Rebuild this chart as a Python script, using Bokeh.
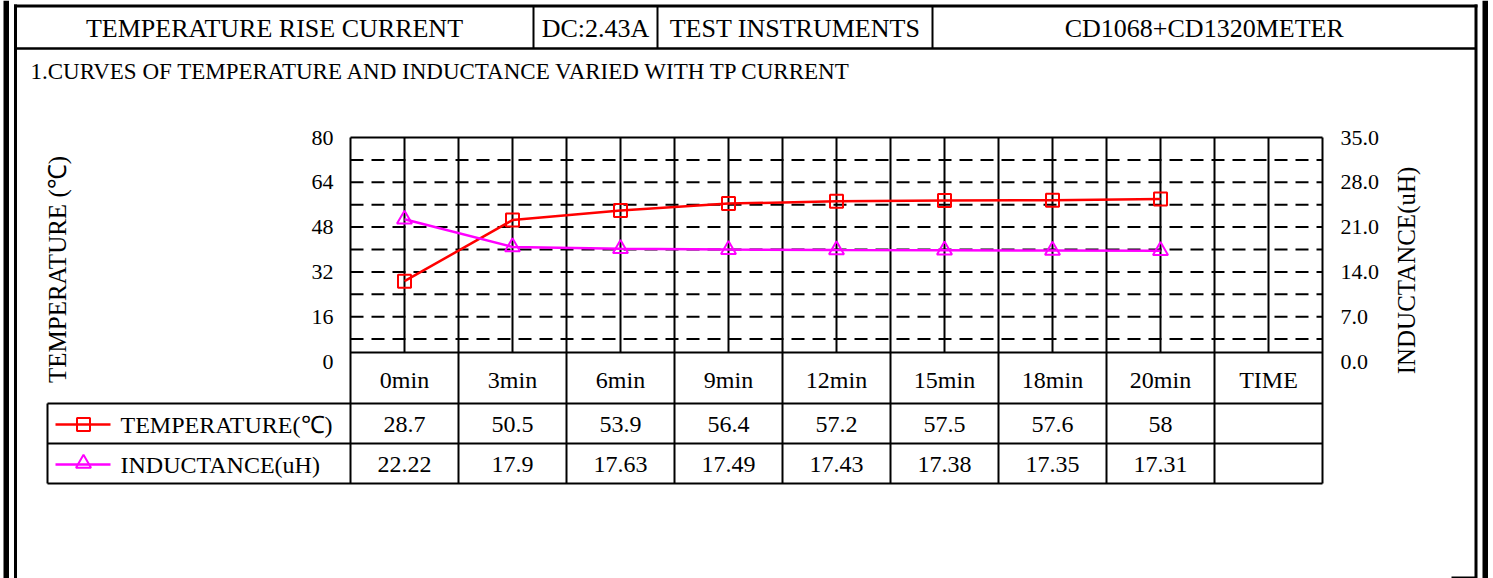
import math
from bokeh.plotting import figure
from bokeh.models import Range1d, GlobalInlineStyleSheet
from bokeh.core.properties import value
from bokeh.embed import file_html
from bokeh.resources import INLINE

# ---------------- data ----------------
categories = ["0min", "3min", "6min", "9min", "12min", "15min", "18min", "20min", "TIME"]
temperature = [28.7, 50.5, 53.9, 56.4, 57.2, 57.5, 57.6, 58]
inductance = [22.22, 17.9, 17.63, 17.49, 17.43, 17.38, 17.35, 17.31]
temp_ticks = [0, 16, 32, 48, 64, 80]
temp_minor = [8, 16, 24, 32, 40, 48, 56, 64, 72]
ind_ticks = [0.0, 7.0, 14.0, 21.0, 28.0, 35.0]
header_cells = ["TEMPERATURE RISE CURRENT", "DC:2.43A", "TEST INSTRUMENTS", "CD1068+CD1320METER"]
subtitle = "1.CURVES OF TEMPERATURE AND INDUCTANCE VARIED WITH TP CURRENT"
series_names = ["TEMPERATURE(℃)", "INDUCTANCE(uH)"]
left_title = "TEMPERATURE (℃)"
right_title = "INDUCTANCE(uH)"

# ---------------- layout (page pixels) ----------------
W, H = 1493, 578
PL, PR = 350, 1322          # plot area left / right
PT, PY0 = 137, 361          # pixel of axis max / axis zero
TMAX, IMAX = 80, 35
CW = (PR - PL) / len(categories)
TABLE_TOP, ROW1, ROW2, TABLE_BOT = 352, 403, 443, 483
LEG_LEFT = 47
HEADER_BOUNDS = [15, 533, 657, 932, 1475.5]
FONT = value("Liberation Serif")
RED, MAG = "#ff0000", "#ff00ff"

p = figure(width=W, height=H, x_range=Range1d(0, W), y_range=Range1d(H, 0),
           output_backend="svg", toolbar_location=None, min_border=0,
           x_axis_location=None, y_axis_location=None)
p.grid.visible = False
p.outline_line_color = None
p.background_fill_color = "white"
p.border_fill_color = "white"
p.stylesheets = [GlobalInlineStyleSheet(css="html,body{margin:0 !important;padding:0;overflow:hidden;}")]

span_px = PY0 - PT
p.extra_x_ranges = {"cat": Range1d(-PL / CW, (W - PL) / CW)}
p.extra_y_ranges = {
    "temp": Range1d((PY0 - H) * TMAX / span_px, PY0 * TMAX / span_px),
    "ind": Range1d((PY0 - H) * IMAX / span_px, PY0 * IMAX / span_px),
}

n = len(categories)
centers = [i + 0.5 for i in range(n)]
bounds = list(range(n + 1))

# ---------------- page frame ----------------
p.quad(left=[3, 1482], right=[8.5, 1487.5], top=[0, 0], bottom=[H, H], color="black", line_width=0)
p.segment(x0=[15, 1475.5], x1=[15, 1475.5], y0=[4, 4], y1=[H, H], line_color="black", line_width=3)
p.segment(x0=[13.5], x1=[1477], y0=[5.5], y1=[5.5], line_color="black", line_width=3)
p.segment(x0=[15], x1=[1475.5], y0=[48], y1=[48], line_color="black", line_width=2.5)
p.segment(x0=HEADER_BOUNDS[1:4], x1=HEADER_BOUNDS[1:4], y0=[5.5] * 3, y1=[48] * 3,
          line_color="black", line_width=2)
p.segment(x0=[1451], x1=[1476], y0=[577], y1=[577], line_color="black", line_width=2)

hx = [(HEADER_BOUNDS[i] + HEADER_BOUNDS[i + 1]) / 2 for i in range(4)]
p.text(x=hx, y=[28] * 4, text=header_cells, text_font=FONT, text_font_size="26px",
       text_align="center", text_baseline="middle", text_color="black")
p.text(x=[30], y=[71], text=[subtitle], text_font=FONT, text_font_size="23px",
       text_align="left", text_baseline="middle", text_color="black")

# ---------------- plot grid ----------------
p.segment(x0=[0] * len(temp_minor), x1=[n] * len(temp_minor), y0=temp_minor, y1=temp_minor,
          x_range_name="cat", y_range_name="temp", line_color="black", line_width=2, line_dash="13 8")
p.segment(x0=[0], x1=[n], y0=[TMAX], y1=[TMAX], x_range_name="cat", y_range_name="temp",
          line_color="black", line_width=2)
p.segment(x0=centers, x1=centers, y0=[PT] * n, y1=[TABLE_TOP] * n, x_range_name="cat",
          line_color="black", line_width=2)
p.segment(x0=bounds, x1=bounds, y0=[PT] * (n + 1), y1=[TABLE_BOT] * (n + 1), x_range_name="cat",
          line_color="black", line_width=2)

# ---------------- data table ----------------
p.segment(x0=[PL, LEG_LEFT, LEG_LEFT, LEG_LEFT], x1=[PR] * 4, y0=[TABLE_TOP, ROW1, ROW2, TABLE_BOT],
          y1=[TABLE_TOP, ROW1, ROW2, TABLE_BOT], line_color="black", line_width=2)
p.segment(x0=[LEG_LEFT], x1=[LEG_LEFT], y0=[ROW1], y1=[TABLE_BOT], line_color="black", line_width=2)

p.text(x=centers, y=[(TABLE_TOP + ROW1) / 2 + 2] * n, text=categories, x_range_name="cat",
       text_font=FONT, text_font_size="24px", text_align="center", text_baseline="middle",
       text_color="black")
r1 = (ROW1 + ROW2) / 2 + 1
r2 = (ROW2 + TABLE_BOT) / 2 + 1
p.text(x=centers[:len(temperature)], y=[r1] * len(temperature), text=[f"{v:g}" for v in temperature],
       x_range_name="cat", text_font=FONT, text_font_size="24px", text_align="center",
       text_baseline="middle", text_color="black")
p.text(x=centers[:len(inductance)], y=[r2] * len(inductance), text=[f"{v:g}" for v in inductance],
       x_range_name="cat", text_font=FONT, text_font_size="24px", text_align="center",
       text_baseline="middle", text_color="black")
p.text(x=[120, 120], y=[r1, r2], text=series_names, text_font=FONT, text_font_size="24px",
       text_align="left", text_baseline="middle", text_color="black")

# legend keys
p.segment(x0=[55], x1=[110], y0=[r1], y1=[r1], line_color=RED, line_width=2.5)
p.scatter(x=[83], y=[r1], marker="square", size=13, line_color=RED, fill_color=None, line_width=2)
p.segment(x0=[55], x1=[110], y0=[r2], y1=[r2], line_color=MAG, line_width=2.5)
p.scatter(x=[83], y=[r2 - 1], marker="triangle", size=15, line_color=MAG, fill_color=None, line_width=2)

# ---------------- series ----------------
p.line(x=centers[:len(temperature)], y=temperature, x_range_name="cat", y_range_name="temp",
       line_color=RED, line_width=2.5)
p.scatter(x=centers[:len(temperature)], y=temperature, x_range_name="cat", y_range_name="temp",
          marker="square", size=13, line_color=RED, fill_color=None, line_width=2)
p.line(x=centers[:len(inductance)], y=inductance, x_range_name="cat", y_range_name="ind",
       line_color=MAG, line_width=2.5)
p.scatter(x=centers[:len(inductance)], y=inductance, x_range_name="cat", y_range_name="ind",
          marker="triangle", size=15, line_color=MAG, fill_color=None, line_width=2)

# ---------------- axis labels ----------------
p.text(x=[333] * len(temp_ticks), y=temp_ticks, text=[str(t) for t in temp_ticks], y_range_name="temp",
       text_font=FONT, text_font_size="22px", text_align="right", text_baseline="middle",
       text_color="black")
p.text(x=[1340] * len(ind_ticks), y=ind_ticks, text=[f"{t:.1f}" for t in ind_ticks], y_range_name="ind",
       text_font=FONT, text_font_size="22px", text_align="left", text_baseline="middle",
       text_color="black")
p.text(x=[57], y=[269], text=[left_title], angle=math.pi / 2, text_font=FONT, text_font_size="25px",
       text_align="center", text_baseline="middle", text_color="black")
p.text(x=[1406], y=[270], text=[right_title], angle=math.pi / 2, text_font=FONT, text_font_size="25px",
       text_align="center", text_baseline="middle", text_color="black")

open("out.html", "w").write(file_html(p, INLINE))
